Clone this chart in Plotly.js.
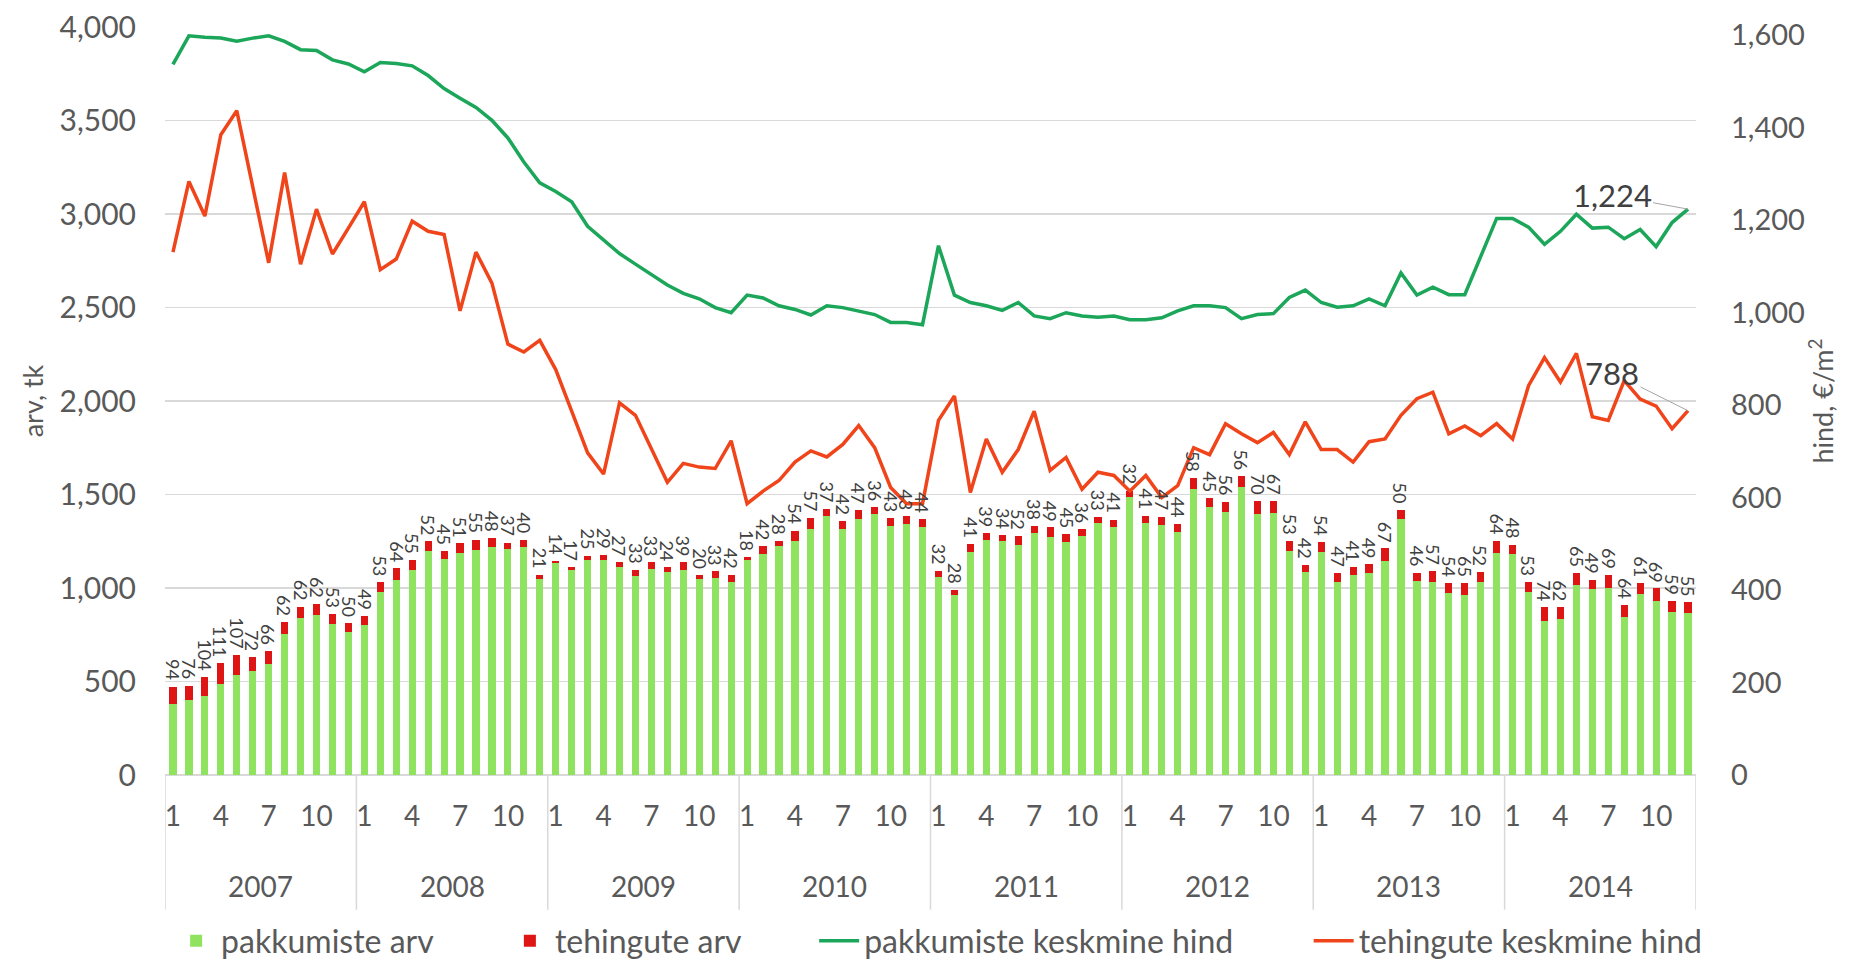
<!DOCTYPE html>
<html>
<head>
<meta charset="utf-8">
<script src="https://cdn.plot.ly/plotly-3.0.1.min.js"></script>
<style>
  html, body { margin: 0; padding: 0; background: #ffffff; }
  #graph { width: 1851px; height: 965px; }
</style>
</head>
<body>
<div id="graph"></div>
<script>
// kuud 2007-2014
var years = [2007, 2008, 2009, 2010, 2011, 2012, 2013, 2014];
var monthTicks = [1, 4, 7, 10];

// pakkumiste arv, tk
var offers = [
    379, 402, 422, 487, 537, 558, 596, 755, 838, 853, 808, 763,
    802, 978, 1043, 1097, 1198, 1155, 1188, 1204, 1218, 1206, 1219, 1049,
    1132, 1094, 1148, 1148, 1110, 1064, 1104, 1087, 1098, 1050, 1056, 1030,
    1150, 1183, 1222, 1253, 1318, 1386, 1315, 1370, 1395, 1329, 1340, 1325,
    1061, 963, 1195, 1255, 1250, 1228, 1295, 1275, 1244, 1280, 1345, 1325,
    1488, 1346, 1335, 1299, 1530, 1434, 1406, 1541, 1397, 1400, 1200, 1083,
    1194, 1034, 1070, 1078, 1145, 1367, 1035, 1032, 971, 960, 1032, 1189,
    1184, 978, 823, 835, 1016, 996, 1001, 846, 966, 929, 874, 869
];

// tehingute arv, tk
var deals = [
    94, 76, 104, 111, 107, 72, 66, 62, 62, 62, 53, 50,
    49, 53, 64, 55, 52, 45, 51, 55, 48, 37, 40, 21,
    14, 17, 25, 29, 27, 33, 33, 24, 39, 20, 33, 42,
    18, 42, 28, 54, 57, 37, 42, 47, 36, 43, 43, 44,
    32, 28, 41, 39, 34, 52, 38, 49, 45, 36, 33, 41,
    32, 41, 47, 44, 58, 45, 56, 56, 70, 67, 53, 42,
    54, 47, 41, 49, 67, 50, 46, 57, 54, 65, 52, 64,
    48, 53, 74, 62, 65, 49, 69, 64, 61, 69, 59, 55
];

// pakkumiste keskmine hind, eur/m2
var offerPrice = [
    1537, 1599, 1596, 1594, 1587, 1594, 1599, 1587, 1569, 1567, 1547, 1538,
    1521, 1541, 1539, 1534, 1513, 1485, 1464, 1444, 1416, 1378, 1326, 1281,
    1262, 1240, 1187, 1157, 1128, 1105, 1082, 1060, 1042, 1030, 1011, 1000,
    1038, 1032, 1015, 1007, 995, 1015, 1011, 1004, 996, 979, 979, 974,
    1145, 1038, 1022, 1015, 1005, 1022, 993, 987, 1000, 993, 990, 993,
    985, 985, 989, 1004, 1015, 1015, 1011, 987, 996, 998, 1033, 1049,
    1022, 1012, 1015, 1030, 1015, 1086, 1038, 1055, 1039, 1039, 1124, 1204,
    1204, 1185, 1148, 1176, 1213, 1183, 1185, 1160, 1180, 1143, 1195, 1224
];

// tehingute keskmine hind, eur/m2
var dealPrice = [
    1131, 1284, 1209, 1385, 1437, 1273, 1108, 1303, 1105, 1224, 1127, 1183,
    1240, 1093, 1116, 1198, 1176, 1169, 1004, 1131, 1064, 932, 915, 940,
    877, 787, 697, 651, 805, 778, 704, 633, 674, 666, 663, 723,
    587, 614, 637, 677, 701, 688, 715, 756, 708, 622, 587, 587,
    767, 820, 611, 727, 655, 704, 787, 659, 687, 618, 655, 648,
    614, 648, 600, 626, 708, 693, 760, 738, 719, 741, 693, 764,
    704, 704, 677, 721, 727, 778, 814, 828, 738, 755, 734, 760,
    727, 842, 903, 850, 912, 775, 767, 853, 813, 798, 749, 788
];

var grey = '#595959';
var x = [];
var tickvals = [];
var ticktext = [];
years.forEach(function(yr, yi) {
    for (var m = 1; m <= 12; m++) {
        var i = yi * 12 + m - 1;
        x.push(i);
        if (monthTicks.indexOf(m) >= 0) {
            tickvals.push(i);
            ticktext.push(String(m));
        }
    }
});
var last = x.length - 1;

var annotations = [];
var shapes = [];

// tehingute arv tulpade kohal, pööratud
x.forEach(function(i) {
    annotations.push({
        text: String(deals[i]), xref: 'x', yref: 'y',
        x: i, y: offers[i] + deals[i], textangle: 90,
        xanchor: 'center', yanchor: 'bottom', yshift: 5,
        showarrow: false, borderpad: 0,
        font: {size: 18, color: '#404040'}
    });
});

// aastad ja eraldusjooned x-telje all
years.forEach(function(yr, yi) {
    annotations.push({
        text: String(yr), xref: 'x', yref: 'paper',
        x: yi * 12 + 5.5, y: -0.148, yanchor: 'middle', showarrow: false,
        font: {size: 28, color: grey}
    });
});
for (var k = 0; k <= years.length; k++) {
    shapes.push({
        type: 'line', xref: 'x', yref: 'paper',
        x0: k * 12 - 0.5, x1: k * 12 - 0.5, y0: 0, y1: -0.18,
        line: {color: '#d9d9d9', width: 1.5}
    });
}
annotations.push({
    text: '1,224', xref: 'x', yref: 'y2', x: last, y: offerPrice[last],
    showarrow: true, arrowhead: 0, arrowwidth: 1, arrowcolor: '#a6a6a6',
    ax: -76, ay: -14, font: {size: 31, color: '#404040'}
});
annotations.push({
    text: '788', xref: 'x', yref: 'y2', x: last, y: dealPrice[last],
    showarrow: true, arrowhead: 0, arrowwidth: 1, arrowcolor: '#a6a6a6',
    ax: -76, ay: -38, font: {size: 31, color: '#404040'}
});

var data = [
    {
        type: 'bar',
        name: 'pakkumiste arv',
        x: x,
        y: offers,
        marker: {color: '#8fe35f'},
        legend: 'legend',
        hoverinfo: 'skip'
    },
    {
        type: 'bar',
        name: 'tehingute arv',
        x: x,
        y: deals,
        marker: {color: '#dd1515'},
        legend: 'legend2',
        hoverinfo: 'skip'
    },
    {
        type: 'scatter',
        mode: 'lines',
        name: 'pakkumiste keskmine hind',
        x: x,
        y: offerPrice,
        yaxis: 'y2',
        legend: 'legend3',
        line: {color: '#1ba65a', width: 3.5}
    },
    {
        type: 'scatter',
        mode: 'lines',
        name: 'tehingute keskmine hind',
        x: x,
        y: dealPrice,
        yaxis: 'y2',
        legend: 'legend4',
        line: {color: '#f0441a', width: 3.5}
    }
];

function legendAt(px) {
    return {
        orientation: 'h',
        x: px, xanchor: 'left',
        y: -0.222, yanchor: 'middle',
        font: {size: 32, color: grey},
        itemwidth: 40,
        bgcolor: 'rgba(0,0,0,0)'
    };
}

var layout = {
    width: 1851,
    height: 965,
    margin: {l: 165, r: 155, t: 27, b: 190, autoexpand: false},
    paper_bgcolor: '#ffffff',
    plot_bgcolor: 'rgba(0,0,0,0)',
    font: {family: 'Lato, "Open Sans", sans-serif', color: grey},
    barmode: 'stack',
    bargap: 0.55,
    showlegend: true,
    legend: legendAt(0.004),
    legend2: legendAt(0.222),
    legend3: legendAt(0.424),
    legend4: legendAt(0.747),
    xaxis: {
        range: [-0.5, last + 0.5],
        tickmode: 'array',
        tickvals: tickvals,
        ticktext: ticktext,
        ticklabelstandoff: 22,
        tickfont: {size: 28, color: grey},
        showgrid: false,
        zeroline: false,
        showline: false
    },
    yaxis: {
        title: {text: 'arv, tk', font: {size: 27, color: grey}, standoff: 8},
        range: [0, 4000],
        dtick: 500,
        tickformat: ',',
        ticklabelstandoff: 28,
        tickfont: {size: 30, color: grey},
        gridcolor: '#d9d9d9',
        gridwidth: 1.5,
        zeroline: true,
        zerolinecolor: '#d9d9d9',
        zerolinewidth: 1.5
    },
    yaxis2: {
        title: {text: 'hind, €/m<sup>2</sup>', font: {size: 27, color: grey}, standoff: 10},
        overlaying: 'y',
        side: 'right',
        range: [0, 1618],
        tickvals: [0, 200, 400, 600, 800, 1000, 1200, 1400, 1600],
        tickformat: ',',
        ticklabelstandoff: 34,
        tickfont: {size: 29, color: grey},
        showgrid: false,
        zeroline: false
    },
    annotations: annotations,
    shapes: shapes
};

Plotly.newPlot('graph', data, layout, {displayModeBar: false, staticPlot: true});
</script>
</body>
</html>
